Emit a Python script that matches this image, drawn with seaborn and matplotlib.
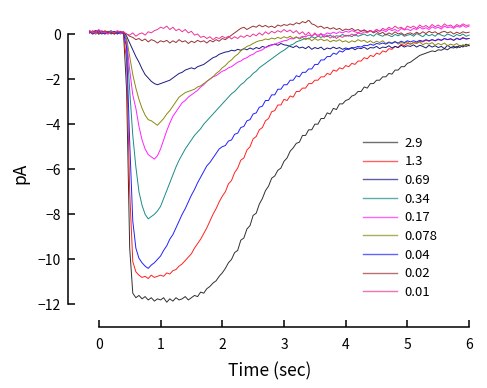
import numpy as np
import pandas as pd
import matplotlib
matplotlib.use('Agg')
from matplotlib import pyplot as plt
import seaborn as sns

plt.rcParams['font.family'] = ['Noto Sans CJK JP', 'DejaVu Sans']
plt.rcParams['axes.unicode_minus'] = True

# sampled every 0.05 s from -0.15 to 6.0 s
time = np.round(np.arange(-0.15, 6.0001, 0.05), 2)

labels = ['2.9', '1.3', '0.69', '0.34', '0.17', '0.078', '0.04', '0.02', '0.01']
colors = ['#303030', '#ff2020', '#1a1a80', '#1a8a8a', '#ff20ff', '#8a8a10', '#2020ff', '#993333', '#ee3399']

c2_9 = [0.1, 0.05, 0.15, 0.0, 0.1, 0.05, 0.12, 0.0, 0.08, 0.1, 0.02, 0.05,
        -2.5, -9.5, -11.5, -11.7, -11.6, -11.75, -11.65, -11.8, -11.7, -11.85, -11.75, -11.8,
        -11.7, -11.9, -11.75, -11.85, -11.7, -11.8, -11.75, -11.65, -11.8, -11.7, -11.6, -11.65, -11.45, -11.5, -11.3, -11.2, -11.05, -10.95, -10.75, -10.6,
        -10.4, -10.15, -10.0, -9.7, -9.6, -9.15, -9.05, -8.65, -8.5, -8.05, -7.95, -7.55, -7.3, -6.95, -6.75, -6.4, -6.3, -6.05, -5.95, -5.65,
        -5.5, -5.2, -5.05, -4.85, -4.8, -4.5, -4.5, -4.25, -4.25, -4.0, -4.0, -3.75, -3.75, -3.5, -3.55, -3.3, -3.35, -3.1, -3.1, -2.95,
        -2.9, -2.75, -2.7, -2.55, -2.55, -2.35, -2.4, -2.2, -2.2, -2.05, -2.05, -1.9, -1.9, -1.75, -1.78, -1.6, -1.6, -1.45, -1.45, -1.3,
        -1.25, -1.15, -1.05, -0.95, -0.9, -0.85, -0.8, -0.75, -0.78, -0.7, -0.72, -0.65, -0.7, -0.6, -0.62, -0.55, -0.6, -0.5, -0.55, -0.5]

c1_3 = [0.05, 0.15, 0.0, 0.1, 0.05, 0.15, 0.05, 0.1, 0.0, 0.12, 0.05, 0.0,
        -1.2, -7.0, -10.1, -10.55, -10.7, -10.8, -10.75, -10.85, -10.7, -10.8, -10.75, -10.7,
        -10.75, -10.6, -10.65, -10.5, -10.45, -10.3, -10.2, -10.05, -9.9, -9.75, -9.5, -9.3, -9.1, -8.85, -8.6, -8.3, -8.0, -7.75, -7.45, -7.2,
        -7.0, -6.65, -6.5, -6.15, -5.95, -5.6, -5.5, -5.15, -5.0, -4.65, -4.55, -4.25, -4.15, -3.85, -3.75, -3.45, -3.4, -3.15, -3.15, -2.9,
        -2.95, -2.75, -2.8, -2.55, -2.55, -2.4, -2.4, -2.2, -2.2, -2.05, -2.05, -1.9, -1.9, -1.75, -1.8, -1.6, -1.65, -1.5, -1.55, -1.4,
        -1.45, -1.3, -1.35, -1.2, -1.2, -1.05, -1.1, -0.95, -1.0, -0.85, -0.9, -0.75, -0.8, -0.65, -0.68, -0.55, -0.6, -0.45, -0.52, -0.42,
        -0.45, -0.38, -0.4, -0.33, -0.35, -0.28, -0.32, -0.25, -0.3, -0.25, -0.28, -0.2, -0.25, -0.2, -0.28, -0.18, -0.24, -0.15, -0.22, -0.2]

c0_69 = [0.05, 0.1, 0.15, 0.05, 0.0, 0.1, 0.05, 0.12, 0.0, 0.08, 0.05, 0.1,
         -0.1, -0.4, -0.7, -1.0, -1.25, -1.55, -1.8, -1.95, -2.1, -2.2, -2.25, -2.2,
         -2.15, -2.1, -2.05, -1.95, -1.85, -1.75, -1.7, -1.6, -1.55, -1.5, -1.55, -1.45, -1.4, -1.35, -1.25, -1.15, -1.05, -1.0, -0.9, -0.85,
         -0.8, -0.78, -0.72, -0.75, -0.68, -0.72, -0.65, -0.7, -0.62, -0.68, -0.6, -0.65, -0.55, -0.6, -0.52, -0.48, -0.45, -0.5, -0.42, -0.48,
         -0.5, -0.55, -0.6, -0.52, -0.62, -0.58, -0.65, -0.55, -0.68, -0.6, -0.65, -0.58, -0.7, -0.62, -0.66, -0.58, -0.65, -0.6, -0.68, -0.62,
         -0.66, -0.6, -0.7, -0.62, -0.65, -0.58, -0.68, -0.6, -0.62, -0.55, -0.65, -0.58, -0.6, -0.52, -0.62, -0.55, -0.6, -0.5, -0.58, -0.52,
         -0.55, -0.48, -0.58, -0.5, -0.55, -0.62, -0.5, -0.58, -0.52, -0.6, -0.55, -0.65, -0.5, -0.6, -0.55, -0.62, -0.5, -0.58, -0.45, -0.52]

c0_34 = [0.15, 0.05, 0.1, 0.0, 0.12, 0.05, 0.1, 0.15, 0.05, 0.1, 0.0, 0.08,
         -0.3, -2.5, -4.5, -5.9, -7.0, -7.6, -8.0, -8.2, -8.1, -8.0, -7.85, -7.65,
         -7.3, -6.95, -6.6, -6.25, -5.9, -5.6, -5.35, -5.1, -4.9, -4.7, -4.5, -4.35, -4.2, -4.0, -3.85, -3.7, -3.55, -3.4, -3.25, -3.1,
         -2.95, -2.8, -2.65, -2.55, -2.4, -2.25, -2.15, -2.0, -1.9, -1.75, -1.65, -1.5, -1.4, -1.3, -1.2, -1.1, -1.0, -0.9, -0.8, -0.72,
         -0.62, -0.5, -0.45, -0.35, -0.3, -0.25, -0.18, -0.22, -0.12, -0.18, -0.1, -0.15, -0.08, -0.12, -0.05, -0.15, -0.08, -0.1, -0.02, -0.1,
         -0.05, -0.12, -0.02, -0.1, -0.05, 0.0, -0.08, -0.02, -0.1, 0.02, -0.05, -0.1, 0.0, -0.06, -0.12, -0.02, -0.08, 0.0, -0.1, -0.05,
         -0.02, -0.1, 0.02, -0.05, -0.12, 0.0, -0.08, -0.02, -0.1, 0.03, -0.05, -0.1, 0.0, -0.05, -0.12, -0.02, -0.08, 0.0, -0.1, -0.05]

c0_17 = [0.05, 0.12, 0.0, 0.1, 0.15, 0.05, 0.0, 0.1, 0.05, 0.12, 0.02, 0.08,
         -0.3, -1.6, -2.7, -3.3, -4.1, -4.7, -5.1, -5.35, -5.45, -5.55, -5.4, -5.1,
         -4.7, -4.3, -3.95, -3.65, -3.45, -3.25, -3.05, -2.95, -2.8, -2.7, -2.6, -2.5, -2.35, -2.25, -2.1, -2.0, -1.9, -1.85, -1.75, -1.65,
         -1.6, -1.5, -1.45, -1.35, -1.25, -1.2, -1.1, -1.05, -0.95, -0.9, -0.8, -0.75, -0.7, -0.6, -0.55, -0.5, -0.45, -0.4, -0.35, -0.3,
         -0.28, -0.2, -0.22, -0.15, -0.18, -0.1, -0.12, -0.05, -0.1, 0.0, -0.05, 0.02, -0.05, 0.05, 0.0, 0.08, 0.02, 0.1, 0.05, 0.12,
         0.08, 0.15, 0.1, 0.05, 0.12, 0.18, 0.1, 0.15, 0.08, 0.2, 0.12, 0.18, 0.1, 0.22, 0.15, 0.2, 0.12, 0.25, 0.18, 0.22,
         0.15, 0.25, 0.2, 0.3, 0.22, 0.28, 0.2, 0.32, 0.25, 0.3, 0.22, 0.35, 0.28, 0.32, 0.25, 0.35, 0.3, 0.38, 0.3, 0.35]

c0_078 = [0.1, 0.0, 0.05, 0.15, 0.08, 0.0, 0.12, 0.05, 0.1, 0.0, 0.1, 0.05,
          -0.2, -1.0, -1.8, -2.4, -2.9, -3.3, -3.6, -3.8, -3.85, -3.95, -4.05, -3.9,
          -3.75, -3.55, -3.4, -3.2, -3.0, -2.8, -2.7, -2.6, -2.55, -2.5, -2.45, -2.35, -2.3, -2.2, -2.1, -2.0, -1.9, -1.75, -1.65, -1.5,
          -1.4, -1.25, -1.15, -1.0, -0.9, -0.75, -0.65, -0.55, -0.5, -0.42, -0.35, -0.3, -0.28, -0.22, -0.25, -0.18, -0.22, -0.15, -0.2, -0.12,
          -0.18, -0.1, -0.2, -0.12, -0.22, -0.15, -0.25, -0.18, -0.3, -0.2, -0.28, -0.22, -0.3, -0.25, -0.35, -0.28, -0.32, -0.25, -0.35, -0.3,
          -0.38, -0.3, -0.35, -0.25, -0.32, -0.28, -0.38, -0.3, -0.4, -0.32, -0.38, -0.3, -0.42, -0.35, -0.4, -0.32, -0.45, -0.38, -0.42, -0.35,
          -0.45, -0.38, -0.42, -0.35, -0.48, -0.4, -0.45, -0.38, -0.5, -0.42, -0.48, -0.4, -0.52, -0.45, -0.5, -0.42, -0.55, -0.48, -0.52, -0.45]

c0_04 = [0.1, 0.0, 0.1, 0.15, 0.05, 0.0, 0.1, 0.05, 0.12, 0.0, 0.08, 0.05,
         -0.6, -4.8, -8.3, -9.5, -9.95, -10.15, -10.3, -10.4, -10.25, -10.15, -10.0, -9.85,
         -9.6, -9.4, -9.1, -8.9, -8.6, -8.3, -8.0, -7.75, -7.45, -7.15, -6.9, -6.6, -6.35, -6.1, -5.85, -5.7, -5.5, -5.3, -5.1, -5.0,
         -4.95, -4.75, -4.7, -4.45, -4.4, -4.15, -4.1, -3.85, -3.8, -3.55, -3.5, -3.25, -3.2, -2.95, -2.95, -2.7, -2.7, -2.45, -2.45, -2.25,
         -2.25, -2.05, -2.05, -1.85, -1.9, -1.7, -1.7, -1.55, -1.55, -1.35, -1.35, -1.15, -1.15, -1.0, -1.0, -0.85, -0.9, -0.75, -0.8, -0.68,
         -0.68, -0.62, -0.6, -0.55, -0.58, -0.5, -0.52, -0.45, -0.5, -0.42, -0.45, -0.4, -0.45, -0.38, -0.42, -0.35, -0.4, -0.32, -0.38, -0.3,
         -0.35, -0.3, -0.35, -0.28, -0.32, -0.25, -0.3, -0.25, -0.3, -0.22, -0.28, -0.2, -0.25, -0.22, -0.28, -0.2, -0.25, -0.18, -0.22, -0.2]

c0_02 = [0.1, 0.05, 0.15, 0.0, 0.1, 0.12, 0.05, 0.1, 0.0, 0.08, 0.12, 0.05,
         0.0, -0.1, -0.15, -0.25, -0.2, -0.3, -0.22, -0.35, -0.25, -0.3, -0.4, -0.3,
         -0.35, -0.28, -0.4, -0.3, -0.38, -0.25, -0.35, -0.3, -0.42, -0.32, -0.38, -0.28, -0.35, -0.3, -0.4, -0.28, -0.35, -0.25, -0.32, -0.2,
         -0.25, -0.15, -0.05, 0.05, 0.15, 0.25, 0.3, 0.2, 0.28, 0.35, 0.3, 0.4, 0.32, 0.38, 0.3, 0.35, 0.28, 0.4, 0.35, 0.42,
         0.38, 0.45, 0.4, 0.5, 0.45, 0.55, 0.5, 0.62, 0.45, 0.4, 0.3, 0.35, 0.25, 0.3, 0.22, 0.28, 0.2, 0.25, 0.15, 0.22,
         0.18, 0.25, 0.15, 0.2, 0.12, 0.18, 0.1, 0.15, 0.05, 0.12, 0.0, 0.08, -0.05, 0.05, -0.02, 0.1, 0.0, 0.05, -0.05, 0.02,
         0.05, -0.02, 0.08, 0.0, 0.1, 0.02, 0.12, 0.05, 0.1, 0.0, 0.08, 0.12, 0.05, 0.1, 0.0, 0.08, 0.02, 0.1, 0.05, 0.08]

c0_01 = [0.15, 0.05, 0.1, 0.2, 0.05, 0.1, 0.0, 0.12, 0.05, 0.15, 0.08, 0.1,
         0.0, -0.05, 0.05, -0.1, 0.0, 0.05, -0.05, 0.1, 0.05, 0.15, 0.2, 0.3,
         0.25, 0.35, 0.2, 0.3, 0.15, 0.22, 0.1, 0.2, 0.05, 0.12, -0.05, 0.0, -0.15, -0.1, -0.2, -0.12, -0.25, -0.15, -0.2, -0.1,
         -0.18, -0.1, -0.22, -0.12, -0.2, -0.08, -0.15, -0.05, -0.12, 0.0, -0.08, 0.05, -0.05, 0.1, 0.0, 0.12, 0.05, 0.15, 0.08, 0.2,
         0.1, 0.18, 0.05, 0.15, 0.0, 0.1, -0.05, 0.08, -0.1, 0.05, -0.12, 0.0, -0.15, -0.05, -0.18, -0.08, -0.2, -0.1, -0.15, -0.05,
         -0.1, 0.0, -0.08, 0.05, 0.0, 0.1, 0.05, 0.15, 0.1, 0.2, 0.12, 0.25, 0.18, 0.3, 0.22, 0.35, 0.25, 0.3, 0.2, 0.35,
         0.28, 0.35, 0.25, 0.4, 0.3, 0.38, 0.28, 0.42, 0.32, 0.4, 0.3, 0.45, 0.35, 0.4, 0.3, 0.42, 0.35, 0.45, 0.38, 0.4]

traces = [c2_9, c1_3, c0_69, c0_34, c0_17, c0_078, c0_04, c0_02, c0_01]

frames = []
for lab, vals in zip(labels, traces):
    frames.append(pd.DataFrame({'Time': time, 'pA': vals, 'conc': lab}))
df = pd.concat(frames, ignore_index=True)

fig = plt.figure(figsize=(4.87, 3.88), dpi=100)
ax = fig.add_axes([0.1396, 0.1572, 0.830, 0.790])
sns.lineplot(data=df, x='Time', y='pA', hue='conc', hue_order=labels,
             palette=colors, linewidth=0.7, estimator=None, sort=False, ax=ax)

ax.set_xlim(-0.5, 6.05)
ax.set_ylim(-13, 0.6)
ax.spines['top'].set_visible(False)
ax.spines['right'].set_visible(False)
ax.spines['left'].set_bounds(-12, 0)
ax.spines['bottom'].set_bounds(0, 6)
ax.spines['left'].set_linewidth(1.1)
ax.spines['bottom'].set_linewidth(1.1)
ax.set_xticks(range(0, 7))
ax.set_yticks(range(-12, 1, 2))
ax.tick_params(direction='in', length=5, width=1.1, labelsize=10)
ax.tick_params(axis='x', pad=8)
ax.tick_params(axis='y', pad=5)
ax.set_xlabel('Time (sec)', fontsize=12.5, labelpad=7)
ax.set_ylabel('pA', fontsize=12.5, labelpad=6)

leg = ax.legend(loc='upper left', bbox_to_anchor=(363 / 487, 0.648),
                bbox_transform=fig.transFigure, frameon=False, fontsize=9.5,
                handlelength=2.6, handletextpad=0.55, labelspacing=0.43,
                borderpad=0, borderaxespad=0)
for line in leg.get_lines():
    line.set_linewidth(1.0)
    line.set_alpha(0.7)

fig.savefig('out.png', dpi=100)
